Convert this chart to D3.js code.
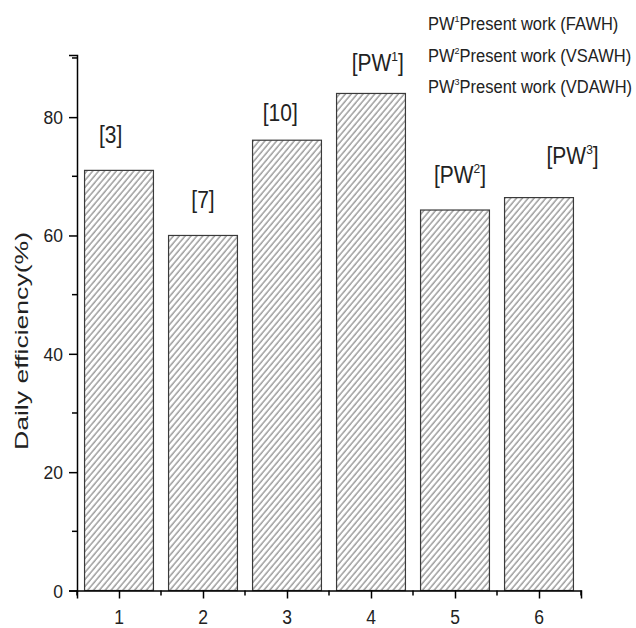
<!DOCTYPE html>
<html>
<head>
<meta charset="utf-8">
<script src="https://cdn.jsdelivr.net/npm/d3@7"></script>
<style>
  body { margin: 0; background: #fff; }
  text { font-family: "Liberation Sans", Arial, sans-serif; fill: #222; }
</style>
</head>
<body>
<div class="chart"></div>
<script>
// bars
const categories = [1, 2, 3, 4, 5, 6];
const efficiency = [71.0, 60.0, 76.1, 84.0, 64.3, 66.4];
const refLabels = ["3", "7", "10", "PW1", "PW2", "PW3"];
// where each [ref] label sits, in data units
const labelCat = [0.9, 2.0, 2.92, 4.08, 5.06, 6.4];
const labelVal = [75.6, 64.6, 79.3, 87.8, 68.8, 72.1];
const yMajor = [0, 20, 40, 60, 80];
const yMinor = [10, 30, 50, 70, 90];
const legendItems = [["1", "FAWH"], ["2", "VSAWH"], ["3", "VDAWH"]];

const width = 636, height = 628;
const svg = d3.select(".chart").append("svg")
    .attr("width", width)
    .attr("height", height);

const x = d3.scaleLinear().domain([0.5, 6.5]).range([77, 581]);
const y = d3.scaleLinear().domain([0, 90.5]).range([590.5, 55]);
const bw = 0.82 * (x(2) - x(1));

// text looks a bit stretched vertically in the original
function tallText(px, py, sy) {
  return svg.append("g")
      .attr("transform", `translate(${px},${py}) scale(1,${sy})`)
      .append("text");
}

// hatch
const defs = svg.append("defs");
const pat = defs.append("pattern")
    .attr("id", "hatch")
    .attr("patternUnits", "userSpaceOnUse")
    .attr("width", 4.5).attr("height", 10)
    .attr("patternTransform", "rotate(40)");
pat.append("rect").attr("width", 4.5).attr("height", 10).attr("fill", "#fff");
pat.append("line")
    .attr("x1", 1).attr("y1", 0).attr("x2", 1).attr("y2", 10)
    .attr("stroke", "#7a7a7a").attr("stroke-width", 1.1);

svg.selectAll("rect.bar")
    .data(categories)
    .enter().append("rect")
    .attr("class", "bar")
    .attr("x", d => x(d) - bw / 2)
    .attr("y", (d, i) => y(efficiency[i]))
    .attr("width", bw)
    .attr("height", (d, i) => y(0) - y(efficiency[i]))
    .attr("fill", "url(#hatch)")
    .attr("stroke", "#3a3a3a")
    .attr("stroke-width", 1.2);

// bar labels
refLabels.forEach((lab, i) => {
  const t = tallText(x(labelCat[i]), y(labelVal[i]), 1.12)
      .attr("text-anchor", "middle")
      .attr("font-size", 21);
  if (lab.startsWith("PW")) {
    t.append("tspan").text("[PW");
    t.append("tspan").attr("font-size", 12).attr("dy", -9).text(lab.slice(2));
    t.append("tspan").attr("dy", 9).text("]");
  } else {
    t.text("[" + lab + "]");
  }
});

// axes
const xAxis = svg.append("g").attr("transform", `translate(0,${y(0)})`);
xAxis.call(d3.axisBottom(x).tickValues(categories).tickSize(8).tickFormat(""));
xAxis.selectAll("line.minor")
    .data(d3.range(0.5, 7, 1))
    .enter().append("line")
    .attr("class", "minor")
    .attr("x1", d => x(d)).attr("x2", d => x(d))
    .attr("y1", 0).attr("y2", 5)
    .attr("stroke", "#000").attr("stroke-width", 1.5);
categories.forEach(c => {
  tallText(x(c), 623.5, 1.18)
      .attr("text-anchor", "middle")
      .attr("font-size", 17.5)
      .text(c);
});

const yAxis = svg.append("g").attr("transform", `translate(${x(0.5)},0)`);
yAxis.call(d3.axisLeft(y).tickValues(yMajor).tickSize(8).tickFormat(""));
yAxis.selectAll("line.minor")
    .data(yMinor)
    .enter().append("line")
    .attr("class", "minor")
    .attr("x1", -5).attr("x2", 0)
    .attr("y1", d => y(d)).attr("y2", d => y(d))
    .attr("stroke", "#000").attr("stroke-width", 1.5);
yMajor.forEach(v => {
  tallText(63, y(v) + 7, 1.05)
      .attr("text-anchor", "end")
      .attr("font-size", 17.5)
      .text(v);
});

svg.selectAll(".domain").attr("stroke-width", 1.5);
svg.selectAll(".tick line").attr("stroke-width", 1.5);

// y title
svg.append("text")
    .attr("transform", `translate(28,341) rotate(-90)`)
    .attr("text-anchor", "middle")
    .attr("font-size", 18)
    .attr("textLength", 218)
    .attr("lengthAdjust", "spacingAndGlyphs")
    .text("Daily efficiency(%)");

// legend text
legendItems.forEach((it, i) => {
  const t = tallText(428, 30 + i * 31.5, 1.1)
      .attr("font-size", 16.5);
  t.append("tspan").text("PW");
  t.append("tspan").attr("font-size", 9).attr("dy", -7).text(it[0]);
  t.append("tspan").attr("dy", 7).text("Present work (" + it[1] + ")");
});
</script>
</body>
</html>
